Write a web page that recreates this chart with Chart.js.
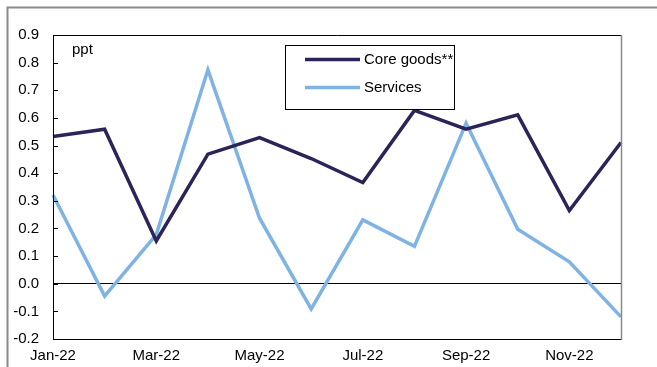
<!DOCTYPE html>
<html>
<head>
<meta charset="utf-8">
<script src="https://cdn.jsdelivr.net/npm/chart.js@4"></script>
<style>
  html, body { margin: 0; padding: 0; background: #fff; }
  #wrap { width: 657px; height: 367px; position: relative; }
</style>
</head>
<body>
<div id="wrap"><canvas id="c" width="657" height="367"></canvas></div>
<script>
const categories = ["Jan-22","Feb-22","Mar-22","Apr-22","May-22","Jun-22","Jul-22","Aug-22","Sep-22","Oct-22","Nov-22","Dec-22"];
const coreGoods = [0.533, 0.559, 0.155, 0.469, 0.529, 0.453, 0.366, 0.627, 0.559, 0.611, 0.265, 0.511];
const services  = [0.321, -0.045, 0.178, 0.774, 0.237, -0.091, 0.231, 0.135, 0.581, 0.197, 0.079, -0.12];
const yTicks = [-0.2, -0.1, 0.0, 0.1, 0.2, 0.3, 0.4, 0.5, 0.6, 0.7, 0.8, 0.9];
const seriesNames = ["Core goods**", "Services"];
const unitLabel = "ppt";

const FONT = "'Liberation Sans', Arial, sans-serif";
const NAVY = "#2a2458";
const LIGHT = "#7eb3e4";

const decor = {
  id: "decor",
  beforeDraw(chart) {
    const ctx = chart.ctx;
    ctx.save();
    ctx.fillStyle = "#fff";
    ctx.fillRect(0, 0, chart.width, chart.height);
    // outer frame (gray)
    ctx.strokeStyle = "#8a8a8a";
    ctx.lineWidth = 2;
    ctx.beginPath();
    ctx.moveTo(7.5, 367);
    ctx.lineTo(7.5, 7.5);
    ctx.lineTo(657, 7.5);
    ctx.stroke();
    ctx.restore();
  },
  afterDatasetsDraw(chart) {
    const ctx = chart.ctx;
    const a = chart.chartArea;
    const ys = chart.scales.y;
    ctx.save();
    // plot borders
    ctx.lineWidth = 1;
    ctx.strokeStyle = "#000";
    ctx.beginPath();
    ctx.moveTo(a.left + 0.5, a.bottom + 0.5);
    ctx.lineTo(a.left + 0.5, a.top + 0.5);
    ctx.lineTo(a.right, a.top + 0.5);
    ctx.moveTo(a.left, a.bottom + 0.5);
    ctx.lineTo(a.right, a.bottom + 0.5);
    ctx.stroke();
    ctx.strokeStyle = "#8a8a8a";
    ctx.lineWidth = 1.5;
    ctx.beginPath();
    ctx.moveTo(a.right + 0.5, a.top);
    ctx.lineTo(a.right + 0.5, a.bottom + 1);
    ctx.stroke();
    // inward y ticks
    ctx.strokeStyle = "#000";
    ctx.lineWidth = 1;
    ctx.beginPath();
    yTicks.forEach(v => {
      const y = Math.round(ys.getPixelForValue(v)) + 0.5;
      ctx.moveTo(a.left, y);
      ctx.lineTo(a.left + 5, y);
    });
    ctx.stroke();
    // unit label
    ctx.fillStyle = "#000";
    ctx.font = "15px " + FONT;
    ctx.textBaseline = "middle";
    ctx.textAlign = "left";
    ctx.fillText(unitLabel, 72, 50);
    // legend box
    const bx = 285, by = 45, bw = 169, bh = 64;
    ctx.fillStyle = "#fff";
    ctx.fillRect(bx, by, bw, bh);
    ctx.strokeStyle = "#000";
    ctx.lineWidth = 1;
    ctx.strokeRect(bx + 0.5, by + 0.5, bw, bh);
    const rows = [59.5, 87.5];
    chart.data.datasets.forEach((ds, i) => {
      ctx.strokeStyle = ds.borderColor;
      ctx.lineWidth = 3.5;
      ctx.lineCap = "butt";
      ctx.beginPath();
      ctx.moveTo(305, rows[i]);
      ctx.lineTo(360, rows[i]);
      ctx.stroke();
      ctx.fillStyle = "#000";
      ctx.font = "15px " + FONT;
      ctx.fillText(ds.label, 364, rows[i] + 0.5);
    });
    ctx.restore();
  }
};

new Chart(document.getElementById("c"), {
  type: "line",
  data: {
    labels: categories,
    datasets: [
      { label: seriesNames[0], data: coreGoods, borderColor: NAVY, borderWidth: 3.5, pointRadius: 0, tension: 0, fill: false, borderJoinStyle: "miter" },
      { label: seriesNames[1], data: services, borderColor: LIGHT, borderWidth: 3.5, pointRadius: 0, tension: 0, fill: false, borderJoinStyle: "miter" }
    ]
  },
  options: {
    responsive: false,
    animation: false,
    devicePixelRatio: 1,
    layout: { padding: { top: 35, right: 36, left: 0, bottom: 0 } },
    plugins: { legend: { display: false }, tooltip: { enabled: false } },
    scales: {
      x: {
        offset: false,
        grid: { display: false, drawTicks: false },
        border: { display: false },
        ticks: {
          autoSkip: false,
          maxRotation: 0,
          padding: 8,
          color: "#000",
          font: { family: FONT, size: 15 },
          callback: function(v, i) { return i % 2 === 0 ? categories[i] : ""; }
        },
        afterFit(s) { s.height = 28; }
      },
      y: {
        min: -0.2,
        max: 0.9,
        grid: {
          drawTicks: false,
          color: ctx => (ctx.tick && Math.abs(ctx.tick.value) < 1e-9) ? "#000" : "rgba(0,0,0,0)",
          lineWidth: 1
        },
        border: { display: false },
        ticks: {
          stepSize: 0.1,
          padding: 14,
          color: "#000",
          font: { family: FONT, size: 15 },
          callback: v => Number(v).toFixed(1)
        },
        afterFit(s) { s.width = 53; }
      }
    }
  },
  plugins: [decor]
});
</script>
</body>
</html>
